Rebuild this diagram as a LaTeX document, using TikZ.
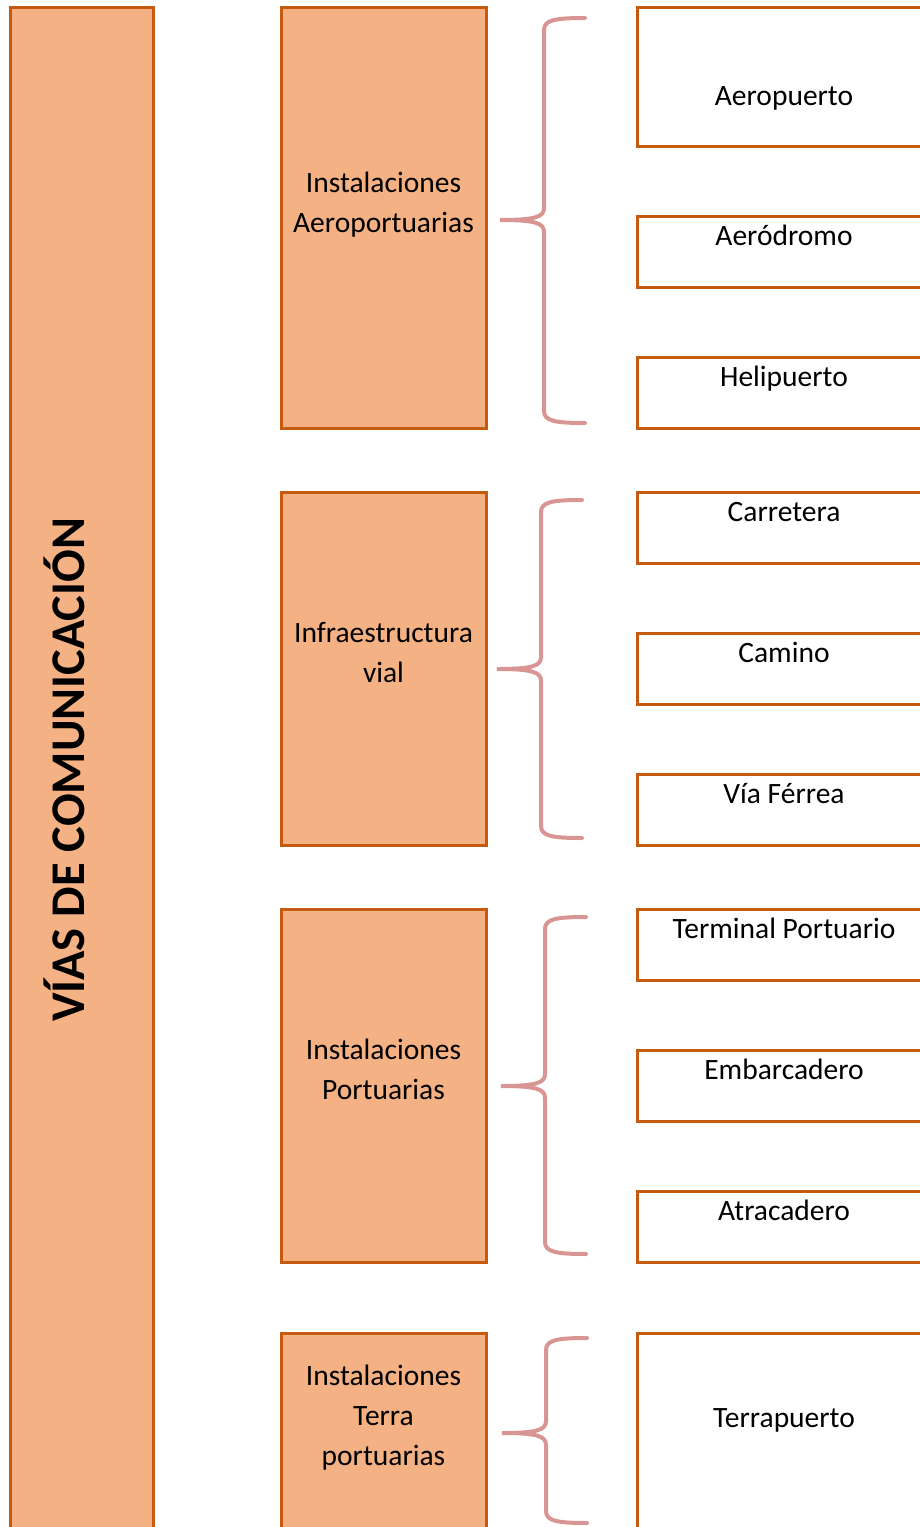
\documentclass[tikz,border=0pt]{standalone}
\usepackage{fontspec}
\setmainfont{Carlito}
\usepackage{tikz}

\definecolor{borde}{HTML}{C55A11}
\definecolor{relleno}{HTML}{F4B183}
\definecolor{llavecol}{HTML}{D99594}

% llave: punta x, punta y, arriba y, abajo y
\newcommand{\llave}[4]{%
  \draw[llavelinea] ({#1+85},#3) .. controls ({#1+55},#3) and ({#1+44},{#3+2}) .. ({#1+44},{#3+12})
    -- ({#1+44},{#2-12}) .. controls ({#1+44},{#2-3}) and ({#1+35},#2) .. (#1,#2)
    .. controls ({#1+35},#2) and ({#1+44},{#2+3}) .. ({#1+44},{#2+12})
    -- ({#1+44},{#4-12}) .. controls ({#1+44},{#4-2}) and ({#1+55},#4) .. ({#1+85},#4);}

\begin{document}
\begin{tikzpicture}[x=0.5pt,y=-0.5pt,
    caja/.style={draw=borde,line width=1.5pt,inner sep=0pt,outer sep=0pt,anchor=north west,
      font=\fontsize{14.75}{20}\selectfont},
    grupo/.style={caja,fill=relleno,minimum width=102.5pt,align=center},
    tipo/.style={caja,fill=white,minimum width=147pt,text height=14.5pt,text depth=21pt},
    llavelinea/.style={draw=llavecol,line width=2pt,line cap=round}]
    \useasboundingbox (0,0) rectangle (920,1527);
    \clip (0,0) rectangle (920,1527);

    % columna principal
    \node[caja,fill=relleno,minimum width=71.5pt,minimum height=790pt] (vias) at (10,7) {};
    \node[rotate=90,anchor=base,font=\fontsize{24.2}{29}\bfseries\selectfont] (titulo) at (84,770)
      {VÍAS DE COMUNICACIÓN};

    % grupos
    \node[grupo,text height=112.5pt,text depth=98pt] (aero) at (281,7) {Instalaciones\\Aeroportuarias};
    \node[grupo,text height=95pt,text depth=81.5pt] (vial) at (281,492) {Infraestructura\\vial};
    \node[grupo,text height=95pt,text depth=81.5pt] (puerto) at (281,909) {Instalaciones\\Portuarias};
    \node[grupo,text height=66pt,text depth=110pt] (terra) at (281,1333) {Instalaciones\\Terra\\portuarias};

    % tipos
    \node[tipo,text height=49pt,text depth=20.5pt] (aeropuerto) at (637,7) {Aeropuerto};
    \node[tipo] (aerodromo) at (637,216) {Aeródromo};
    \node[tipo] (helipuerto) at (637,357) {Helipuerto};
    \node[tipo] (carretera) at (637,492) {Carretera};
    \node[tipo] (camino) at (637,633) {Camino};
    \node[tipo] (ferrea) at (637,774) {Vía Férrea};
    \node[tipo] (terminal) at (637,909) {Terminal Portuario};
    \node[tipo] (embarcadero) at (637,1050) {Embarcadero};
    \node[tipo] (atracadero) at (637,1191) {Atracadero};
    \node[tipo,text height=47pt,text depth=100pt] (terrapuerto) at (637,1333) {Terrapuerto};

    % llaves
    \llave{500}{220}{18}{423}
    \llave{497}{669}{500}{838}
    \llave{501}{1086}{917}{1254}
    \llave{502}{1433}{1338}{1523}
\end{tikzpicture}
\end{document}
